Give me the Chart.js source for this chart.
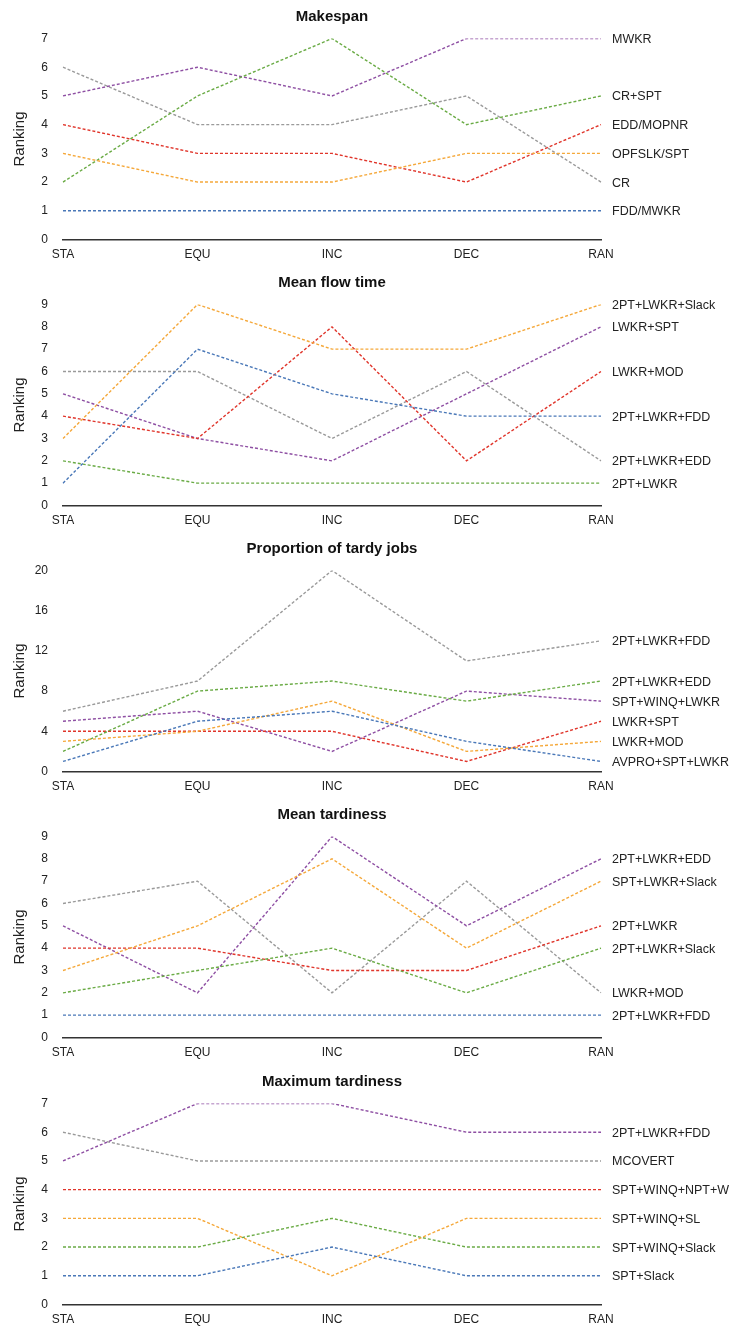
<!DOCTYPE html>
<html><head><meta charset="utf-8">
<script src="https://cdn.jsdelivr.net/npm/chart.js@4/dist/chart.umd.min.js"></script>
<style>
html,body{margin:0;padding:0;background:#fff;overflow:hidden;}
.panel{position:absolute;left:0;width:730px;height:266px;}
canvas{display:block;}
</style></head><body>
<div class="panel" style="top:0px"><canvas id="c0" width="730" height="266"></canvas></div>
<div class="panel" style="top:266px"><canvas id="c1" width="730" height="266"></canvas></div>
<div class="panel" style="top:532px"><canvas id="c2" width="730" height="266"></canvas></div>
<div class="panel" style="top:798px"><canvas id="c3" width="730" height="266"></canvas></div>
<div class="panel" style="top:1065px"><canvas id="c4" width="730" height="266"></canvas></div>
<script>
const categories = ['STA','EQU','INC','DEC','RAN'];

const makespanLabels = ['FDD/MWKR','OPFSLK/SPT','CR+SPT','EDD/MOPNR','MWKR','CR'];
const makespanValues = [[1,1,1,1,1],[3,2,2,3,3],[2,5,7,4,5],[4,3,3,2,4],[5,6,5,7,7],[6,4,4,5,2]];

const flowLabels = ['2PT+LWKR+FDD','2PT+LWKR+Slack','2PT+LWKR','LWKR+MOD','LWKR+SPT','2PT+LWKR+EDD'];
const flowValues = [[1,7,5,4,4],[3,9,7,7,9],[2,1,1,1,1],[4,3,8,2,6],[5,3,2,5,8],[6,6,3,6,2]];

const tardyLabels = ['AVPRO+SPT+LWKR','LWKR+MOD','2PT+LWKR+EDD','LWKR+SPT','SPT+WINQ+LWKR','2PT+LWKR+FDD'];
const tardyValues = [[1,5,6,3,1],[3,4,7,2,3],[2,8,9,7,9],[4,4,4,1,5],[5,6,2,8,7],[6,9,20,11,13]];

const meanTardLabels = ['2PT+LWKR+FDD','SPT+LWKR+Slack','2PT+LWKR+Slack','2PT+LWKR','2PT+LWKR+EDD','LWKR+MOD'];
const meanTardValues = [[1,1,1,1,1],[3,5,8,4,7],[2,3,4,2,4],[4,4,3,3,5],[5,2,9,5,8],[6,7,2,7,2]];

const maxTardLabels = ['SPT+Slack','SPT+WINQ+SL','SPT+WINQ+Slack','SPT+WINQ+NPT+WINQ','2PT+LWKR+FDD','MCOVERT'];
const maxTardValues = [[1,1,2,1,1],[3,3,1,3,3],[2,2,3,2,2],[4,4,4,4,4],[5,7,7,6,6],[6,5,5,5,5]];

const panelTitles = ['Makespan','Mean flow time','Proportion of tardy jobs','Mean tardiness','Maximum tardiness'];
const yMax = [7, 9, 20, 9, 7];
const yStep = [1, 1, 4, 1, 1];

const palette = ['#4a78b8','#f5a83a','#6aab45','#e0352b','#8e4fa3','#9a9a9a'];
const FONT = "Helvetica, Arial, 'Liberation Sans', sans-serif";

const endLabels = {
  id: 'endLabels',
  afterDatasetsDraw(chart) {
    const ctx = chart.ctx;
    const area = chart.chartArea;
    ctx.save();
    ctx.font = '12.5px ' + FONT;
    ctx.fillStyle = '#222';
    ctx.textAlign = 'left';
    ctx.textBaseline = 'middle';
    chart.data.datasets.forEach((ds, i) => {
      const meta = chart.getDatasetMeta(i);
      const pt = meta.data[meta.data.length - 1];
      ctx.fillText(ds.label, area.right + 11, pt.y + 1);
    });
    ctx.restore();
  }
};

function makePanel(idx, names, values) {
  const datasets = names.map((n, i) => ({
    label: n,
    data: values[i],
    borderColor: palette[i],
    borderWidth: 1.4,
    borderDash: [3, 2],
    pointRadius: 0,
    fill: false,
    tension: 0
  }));
  new Chart(document.getElementById('c' + idx), {
    type: 'line',
    data: { labels: categories, datasets },
    plugins: [endLabels],
    options: {
      responsive: false,
      animation: false,
      devicePixelRatio: 1,
      layout: { padding: { left: 0, right: 129, top: 0, bottom: 0 } },
      plugins: {
        legend: { display: false },
        tooltip: { enabled: false },
        title: {
          display: true,
          text: panelTitles[idx],
          fullSize: false,
          color: '#111',
          font: { family: FONT, size: 15, weight: 'bold', lineHeight: 1.2 },
          padding: { top: 8, bottom: 12.5 }
        }
      },
      scales: {
        x: {
          grid: { display: false, drawTicks: false },
          border: { display: true, color: '#333', width: 1.5 },
          ticks: { color: '#222', font: { family: FONT, size: 12 }, padding: 8, maxRotation: 0, autoSkip: false },
          afterFit(s) { s.height = 26.5; }
        },
        y: {
          min: 0, max: yMax[idx],
          grid: { display: false, drawTicks: false },
          border: { display: false },
          ticks: { stepSize: yStep[idx], color: '#222', font: { family: FONT, size: 12 }, padding: 15 },
          title: {
            display: true, text: 'Ranking', color: '#222',
            font: { family: FONT, size: 15 }, padding: { top: 11, bottom: 0 }
          },
          afterFit(s) { s.width = 63; }
        }
      }
    }
  });
}

makePanel(0, makespanLabels, makespanValues);
makePanel(1, flowLabels, flowValues);
makePanel(2, tardyLabels, tardyValues);
makePanel(3, meanTardLabels, meanTardValues);
makePanel(4, maxTardLabels, maxTardValues);
</script>
</body></html>
